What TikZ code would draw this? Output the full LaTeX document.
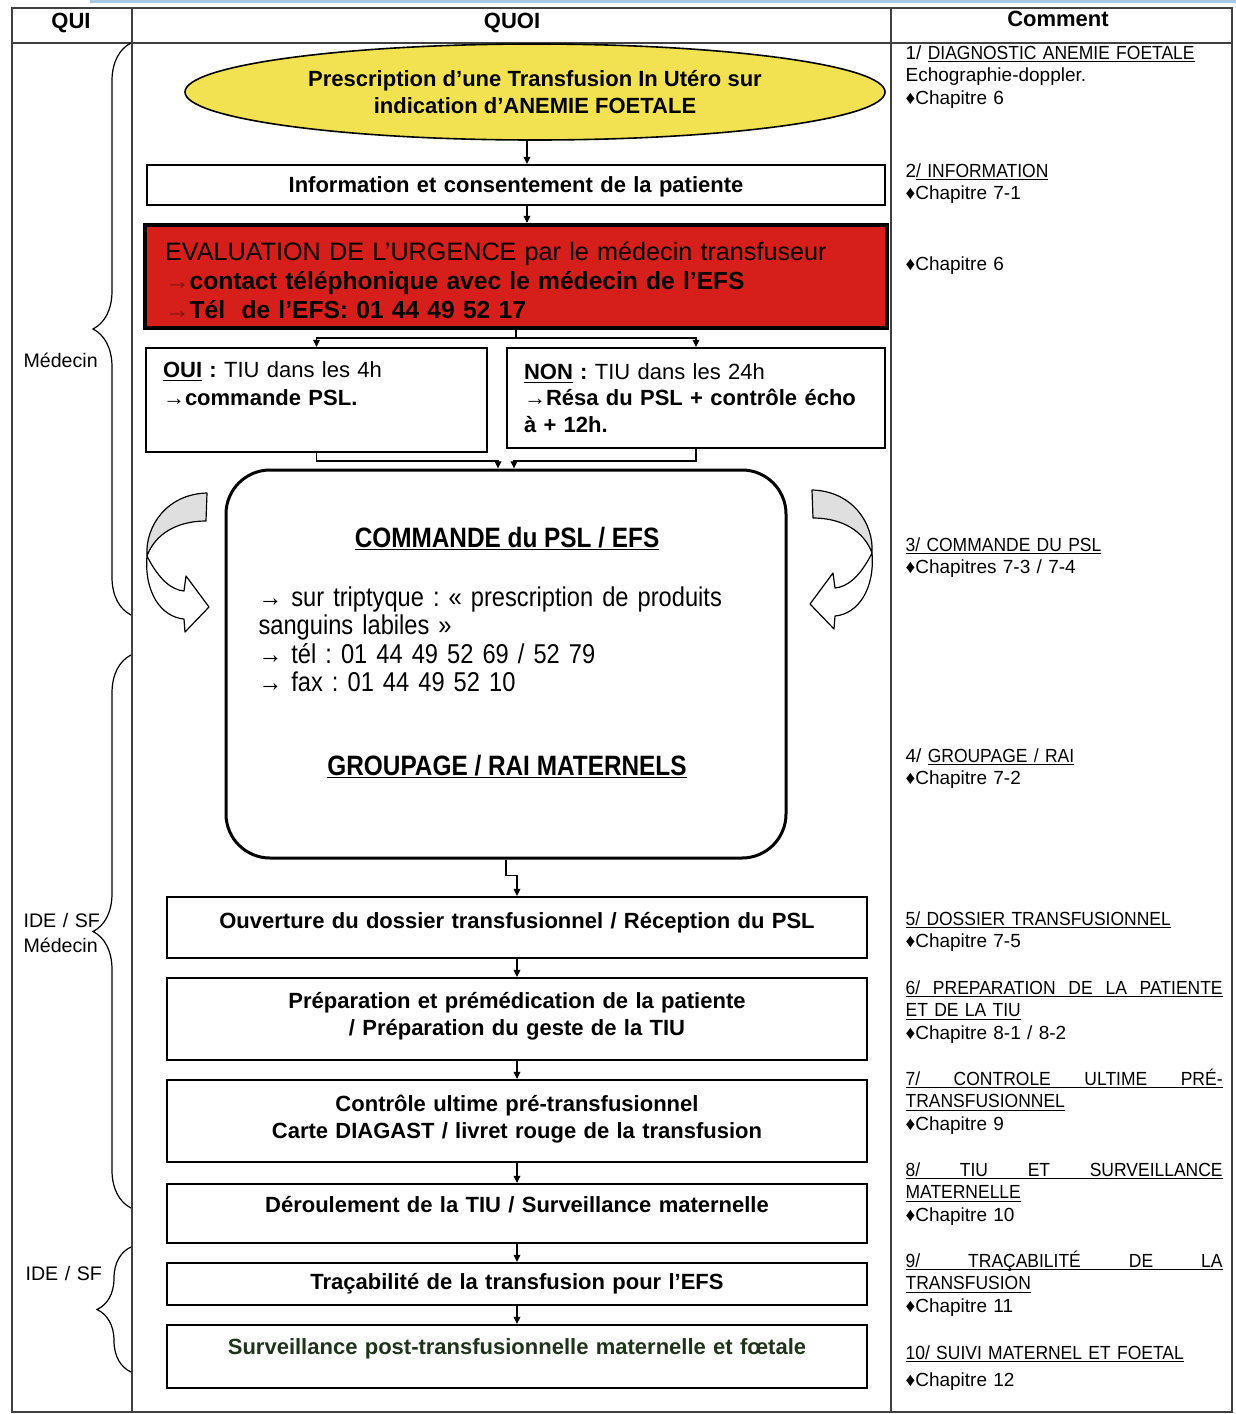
\documentclass[tikz,border=0pt]{standalone}
\usepackage{fontspec}
\setmainfont{Liberation Sans}
\newfontfamily\narrowfont{Liberation Sans}[FakeStretch=0.87]
\newfontfamily\capsfont{Liberation Sans}[FakeStretch=0.92]
\usetikzlibrary{arrows.meta,positioning,shapes.geometric,decorations.pathreplacing}

\definecolor{ovalyellow}{RGB}{242,226,82}
\definecolor{alertred}{RGB}{214,30,26}
\definecolor{arrowred}{RGB}{120,24,20}
\definecolor{inkgreen}{RGB}{30,52,26}
\definecolor{scanblue}{RGB}{165,198,230}

\frenchspacing
\newlength\comw
\setlength\comw{158.5pt}
\newcommand\undl[1]{\underline{\smash{#1}}}
\newcommand\hd[1]{\underline{\smash{\capsfont #1}}}
\newcommand\lift[1]{\rule[-#1]{0pt}{#1}}
\newcommand\drop[1]{\rule{0pt}{#1}}
\newcommand\spread[1]{\makebox[\comw][s]{#1}}

\begin{document}
\begin{tikzpicture}[
    x = 0.5pt, y = -0.5pt, % one unit = one pixel, y going down
    > = {Triangle[length=3.6pt,width=3.4pt]}, % arrow head style
    semithick % line style
    ]

    \tikzset{
    grid/.style = {line width=0.7pt, black!75},
    head/.style = {anchor=base, font=\fontsize{11}{13}\selectfont\bfseries},
    who/.style = {anchor=base west, text width=40pt, align=left, inner sep=0pt,
        font=\fontsize{9.8}{12.5}\selectfont},
    whobrace/.style = {decorate, decoration={brace, amplitude=#1}, line width=0.6pt},
    flowbox/.style = {draw, line width=1pt, text width=340pt, inner xsep=5pt,
        inner ysep=0pt, align=center, font=\fontsize{11}{13.5}\selectfont\bfseries},
    choicebox/.style = {draw, line width=1pt, inner xsep=8.5pt, inner ysep=0pt,
        align=left, font=\fontsize{11}{14}\selectfont},
    note/.style = {anchor=base west, text width=\comw, inner sep=0pt, align=left,
        font=\fontsize{9.5}{11.25}\selectfont},
    turnarrow/.pic = {
        % front half with the head
        \filldraw[fill=white, line width=0.6pt, line join=round]
          (0,0) .. controls (12,24) and (25,34) .. (37,35) -- (39,20) -- (62,51)
          -- (38,76) -- (37,63) .. controls (14,61) and (-3,36) .. cycle;
        % back half, shaded
        \filldraw[fill=gray!25, line width=0.6pt, line join=round]
          (0,0) .. controls (-2,-30) and (20,-62) .. (60,-63) -- (59,-35)
          .. controls (30,-35) and (8,-22) .. cycle;
    }
    }

    \useasboundingbox (0,0) rectangle (1236,1414);

    % table
    \draw[scanblue, line width=1.2pt] (90,1.5) -- (1236,1.5);
    \draw[grid] (12,8) rectangle (1232,1412);
    \draw[grid] (12,43) -- (1232,43);
    \draw[grid] (132,8) -- (132,1412);
    \draw[grid] (891,8) -- (891,1412);

    \node[head] (hqui) at (71,28) {QUI};
    \node[head] (hquoi) at (512,28) {QUOI};
    \node[head] (hcom) at (1058,26) {Comment};

    % QUI
    \draw[whobrace=19pt] (131,615) -- (131,43);
    \draw[whobrace=19pt] (131,1208) -- (131,655);
    \draw[whobrace=17pt] (131,1372) -- (131,1247);
    \node[who] (who1) at (23,367) {Médecin};
    \node[who] (who2) at (23,927) {IDE / SF\\Médecin};
    \node[who] (who3) at (25,1280) {IDE / SF};

    % QUOI
    \coordinate (ax) at (527,0);
    \node[ellipse, draw, line width=0.8pt, fill=ovalyellow, minimum width=350pt,
        minimum height=48pt, inner sep=0pt, align=center,
        font=\fontsize{11}{13.5}\selectfont\bfseries] (presc) at (535,92)
        {Prescription d’une Transfusion In Utéro sur\\indication d’ANEMIE FOETALE};
    \node[flowbox, text width=359pt, minimum height=20pt] (info) at (516,185)
        {\drop{9.5pt}Information et consentement de la patiente};
    \node[draw, line width=2pt, fill=alertred, text width=351pt, inner xsep=10pt,
        inner ysep=0pt, minimum height=51.5pt, align=left,
        font=\fontsize{12.3}{14.5}\selectfont] (urg) at (516,276.5)
        {\drop{13.5pt}{\fontsize{12.6}{14.5}\selectfont EVALUATION DE L’URGENCE par le médecin transfuseur}\\
         \textbf{\textcolor{arrowred}{→}contact téléphonique avec le médecin de l’EFS}\\
         \textbf{\textcolor{arrowred}{→}Tél~ de l’EFS: 01 44 49 52 17}};
    \node[choicebox, text width=153.5pt, minimum height=52pt] (oui) at (316.5,400)
        {\textbf{\undl{OUI} :} TIU dans les 4h\\\textbf{→commande PSL.}\lift{16pt}};
    \node[choicebox, text width=172pt, minimum height=50pt,
        font=\fontsize{11}{13.25}\selectfont] (non) at (696,398)
        {\textbf{\undl{NON} :} TIU dans les 24h\\\textbf{→Résa du PSL + contrôle écho}\\
         \textbf{à + 12h.}};

    \node[draw, line width=1.5pt, rounded corners=22pt, minimum width=280pt,
        minimum height=194pt] (cmd) at (506,664) {};
    \node[anchor=base, font=\narrowfont\fontsize{14}{17}\selectfont\bfseries]
        (cmdtitle) at (507,547) {\undl{COMMANDE du PSL / EFS}};
    \node[anchor=base west, text width=250pt, align=left, inner sep=0pt,
        font=\narrowfont\fontsize{13.6}{14.25}\selectfont] (cmdtext) at (258,606)
        {→ sur triptyque : « prescription de produits\\sanguins labiles »\\
         → tél : 01 44 49 52 69 / 52 79\\→ fax : 01 44 49 52 10};
    \node[anchor=base, font=\narrowfont\fontsize{14}{17}\selectfont\bfseries]
        (grptitle) at (507,775) {\undl{GROUPAGE / RAI MATERNELS}};
    \pic (turnl) at (147,556) {turnarrow};
    \pic[xscale=-1] (turnr) at (872,553) {turnarrow};

    \node[flowbox, minimum height=30.5pt] (open) at (517,927.5)
        {Ouverture du dossier transfusionnel / Réception du PSL\lift{7.5pt}};
    \node[flowbox, minimum height=41pt] (prep) at (517,1019)
        {Préparation et prémédication de la patiente\\/ Préparation du geste de la TIU\lift{5.5pt}};
    \node[flowbox, minimum height=41pt] (ctrl) at (517,1121)
        {Contrôle ultime pré-transfusionnel\\Carte DIAGAST / livret rouge de la transfusion\lift{4.5pt}};
    \node[flowbox, minimum height=29.5pt] (run) at (517,1213.5)
        {Déroulement de la TIU / Surveillance maternelle\lift{8.6pt}};
    \node[flowbox, minimum height=21pt] (trace) at (517,1284)
        {Traçabilité de la transfusion pour l’EFS};
    \node[flowbox, minimum height=31.5pt, text=inkgreen] (post) at (517,1356.5)
        {Surveillance post-transfusionnelle maternelle et fœtale\lift{9.6pt}};

    \path[->] (presc.south -| ax) edge (info.north -| ax)
              (info.south -| ax) edge (urg.north -| ax);
    \draw[->] (urg.south) -- ++(0,8) -| (oui.north);
    \draw[->] (urg.south) -- ++(0,8) -| (non.north);
    \draw[->] (oui.south) -- ++(0,8) -| ([xshift=-4pt]cmd.north);
    \draw[->] (non.south) -- ++(0,12) -| ([xshift=4pt]cmd.north);
    \draw[->] (cmd.south) -- ++(0,16) -| (open.north);
    \path[->] (open) edge (prep)
              (prep) edge (ctrl)
              (ctrl) edge (run)
              (run) edge (trace)
              (trace) edge (post);

    % Comment
    \node[note] (com1) at (905,59)
        {1/ \hd{DIAGNOSTIC ANEMIE FOETALE}\\Echographie-doppler.\\♦Chapitre 6};
    \node[note] (com2) at (905,177) {2\hd{/ INFORMATION}\\♦Chapitre 7-1};
    \node[note] (com3) at (905,270) {♦Chapitre 6};
    \node[note] (com4) at (905,551) {\hd{3/ COMMANDE DU PSL}\\♦Chapitres 7-3 / 7-4};
    \node[note] (com5) at (905,762) {4/ \hd{GROUPAGE / RAI}\\♦Chapitre 7-2};
    \node[note] (com6) at (905,925) {\hd{5/ DOSSIER TRANSFUSIONNEL}\\♦Chapitre 7-5};
    \node[note] (com7) at (905,994)
        {\hd{\spread{6/\hfill PREPARATION\hfill DE\hfill LA\hfill PATIENTE}}\\\hd{ET DE LA TIU}\\♦Chapitre 8-1 / 8-2};
    \node[note] (com8) at (905,1085)
        {\hd{\spread{7/\hfill CONTROLE\hfill ULTIME\hfill PRÉ-}}\\\hd{TRANSFUSIONNEL}\\♦Chapitre 9};
    \node[note] (com9) at (905,1176)
        {\hd{\spread{8/\hfill TIU\hfill ET\hfill SURVEILLANCE}}\\\hd{MATERNELLE}\\♦Chapitre 10};
    \node[note] (com10) at (905,1267)
        {\hd{\spread{9/\hfill TRAÇABILITÉ\hfill DE\hfill LA}}\\\hd{TRANSFUSION}\\♦Chapitre 11};
    \node[note] (com11) at (905,1359)
        {\hd{10/ SUIVI MATERNEL ET FOETAL}\\[2.5pt]♦Chapitre 12};
\end{tikzpicture}
\end{document}
